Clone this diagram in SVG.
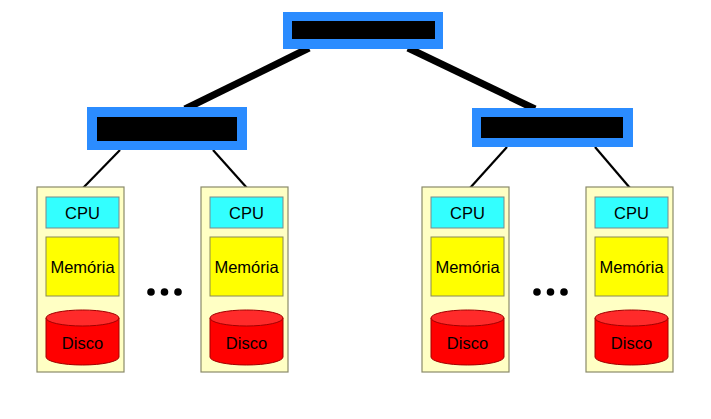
<svg xmlns="http://www.w3.org/2000/svg" width="711" height="419" viewBox="0 0 711 419">
  <defs>
    <style>
      .sw-outer { fill: #2b8cff; }
      .sw-inner { fill: #000000; }
      .trunk { stroke: #000; stroke-width: 7; stroke-linecap: butt; fill: none; }
      .link { stroke: #000; stroke-width: 2.2; fill: none; }
      .host { fill: #ffffc4; stroke: #8a8a6a; stroke-width: 1.2; }
      .cpu { fill: #33ffff; stroke: #7a8a8a; stroke-width: 1; }
      .mem { fill: #ffff00; stroke: #8a8a55; stroke-width: 1; }
      .disk { fill: #ff0000; stroke: #a00000; stroke-width: 1; }
      .disk-top { fill: #ff2a2a; stroke: #a00000; stroke-width: 1; }
      .lbl { font-family: "Liberation Sans", Arial, sans-serif; font-size: 16.5px; fill: #000; text-anchor: middle; }
      .dot { fill: #000; }
    </style>
    <g id="host-template">
      <rect class="host" x="0" y="0" width="87" height="185"/>
      <rect class="cpu" x="9" y="10" width="73" height="31"/>
      <text class="lbl" x="45.5" y="32">CPU</text>
      <rect class="mem" x="9" y="50" width="73" height="59"/>
      <text class="lbl" x="45.5" y="86">Memória</text>
      <path class="disk" d="M9,131 L9,170 A36.5,8 0 0 0 82,170 L82,131 Z"/>
      <ellipse class="disk-top" cx="45.5" cy="131" rx="36.5" ry="8"/>
      <text class="lbl" x="45.5" y="162">Disco</text>
    </g>
  </defs>

  <!-- connectors -->
  <g id="connectors">
    <line class="trunk" x1="309" y1="48" x2="185" y2="109"/>
    <line class="trunk" x1="408" y1="48" x2="535" y2="109"/>
    <line class="link" x1="120" y1="150" x2="83" y2="188"/>
    <line class="link" x1="213" y1="150" x2="247" y2="188"/>
    <line class="link" x1="507" y1="147" x2="470" y2="188"/>
    <line class="link" x1="595" y1="147" x2="630" y2="188"/>
  </g>

  <!-- switches -->
  <g id="switch-top">
    <rect class="sw-outer" x="283" y="12" width="160" height="37"/>
    <rect class="sw-inner" x="292" y="21" width="143" height="18"/>
  </g>
  <g id="switch-left">
    <rect class="sw-outer" x="87" y="107" width="160" height="43"/>
    <rect class="sw-inner" x="97" y="117" width="140" height="24"/>
  </g>
  <g id="switch-right">
    <rect class="sw-outer" x="472" y="108" width="161" height="39"/>
    <rect class="sw-inner" x="481" y="117" width="142" height="21"/>
  </g>

  <!-- hosts -->
  <g id="host-1" transform="translate(37,187)"><use href="#host-template"/></g>
  <g id="host-2" transform="translate(201,187)"><use href="#host-template"/></g>
  <g id="host-3" transform="translate(422,187)"><use href="#host-template"/></g>
  <g id="host-4" transform="translate(586,187)"><use href="#host-template"/></g>

  <!-- ellipses between hosts -->
  <g id="ellipsis-left">
    <circle class="dot" cx="151" cy="292" r="3.8"/>
    <circle class="dot" cx="164.5" cy="292" r="3.8"/>
    <circle class="dot" cx="178" cy="292" r="3.8"/>
  </g>
  <g id="ellipsis-right">
    <circle class="dot" cx="537" cy="292" r="3.8"/>
    <circle class="dot" cx="550.5" cy="292" r="3.8"/>
    <circle class="dot" cx="564" cy="292" r="3.8"/>
  </g>
</svg>
